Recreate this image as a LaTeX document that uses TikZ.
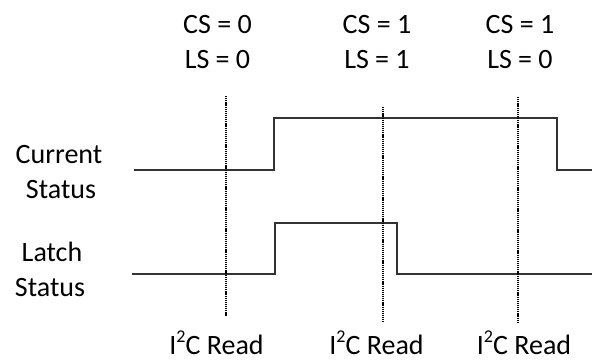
\documentclass[tikz,border=0pt]{standalone}
\usepackage{fontspec}
\setmainfont{Carlito}
\newcommand{\supTwo}{\raisebox{0.4em}{\fontsize{18}{18}\selectfont 2}}
\begin{document}
\begin{tikzpicture}[x=1pt,y=-1pt,
  lbl/.style={anchor=base,inner sep=0pt,font=\fontsize{28}{35}\selectfont},
  wave/.style={line width=1.4pt,draw=black!80},
  readline/.style={line width=1.3pt,dash pattern=on 1.2pt off 0.9pt}]
\useasboundingbox (0,0) rectangle (592,360);
% top labels
\node[lbl] (cs1) at (217.5,33) {CS = 0};
\node[lbl] (ls1) at (217.5,68) {LS = 0};
\node[lbl] (cs2) at (377,33) {CS = 1};
\node[lbl] (ls2) at (377,68) {LS = 1};
\node[lbl] (cs3) at (520,33) {CS = 1};
\node[lbl] (ls3) at (520,68) {LS = 0};
% left labels
\node[lbl] (cur) at (59,163) {Current};
\node[lbl] (cst) at (61,198) {Status};
\node[lbl] (lat) at (52,261) {Latch};
\node[lbl] (lst) at (50,296) {Status};
% bottom labels
\node[lbl] (r1) at (216.5,354) {I\supTwo C Read};
\node[lbl] (r2) at (376.5,354) {I\supTwo C Read};
\node[lbl] (r3) at (524,354) {I\supTwo C Read};
% waveforms
\draw[wave] (134,170) -- (274,170) -- (274,118) -- (557,118) -- (557,170) -- (592,170);
\draw[wave] (132,274) -- (275,274) -- (275,223) -- (397,223) -- (397,274) -- (592,274);
% read markers
\coordinate (m1t) at (226,96);  \coordinate (m1b) at (226,316);
\coordinate (m2t) at (383,107); \coordinate (m2b) at (383,323);
\coordinate (m3t) at (518,97);  \coordinate (m3b) at (518,323);
\draw[readline] (m1t) -- (m1b);
\draw[readline] (m2t) -- (m2b);
\draw[readline] (m3t) -- (m3b);
\end{tikzpicture}
\end{document}
